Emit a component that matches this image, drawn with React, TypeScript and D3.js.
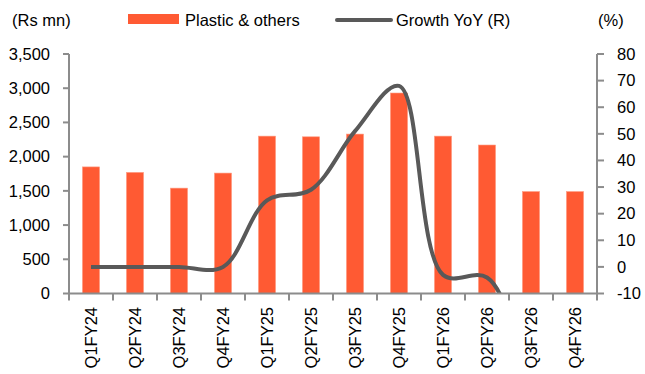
import React from "react";
import * as d3 from "d3";

const categories = ["Q1FY24","Q2FY24","Q3FY24","Q4FY24","Q1FY25","Q2FY25","Q3FY25","Q4FY25","Q1FY26","Q2FY26","Q3FY26","Q4FY26"];
const plasticValues = [1850, 1770, 1540, 1760, 2300, 2290, 2330, 2930, 2300, 2170, 1490, 1490];
const growthValues = [0, 0, 0, 0, 25, 29, 51, 68, -3, -4, -36, -49];
const leftTicks = [0, 500, 1000, 1500, 2000, 2500, 3000, 3500];
const rightTicks = [-10, 0, 10, 20, 30, 40, 50, 60, 70, 80];

const W = 645, H = 374;
const X0 = 69, X1 = 597, YTOP = 54, YBOT = 293.5;
const FONT = "'Liberation Sans', Arial, sans-serif";
const BAR = "#FF5A33";
const LINE = "#595959";
const AXIS = "#8C8C8C";

export default function App() {
  const x = d3.scaleBand<string>().domain(categories).range([X0, X1]).paddingInner(0).paddingOuter(0);
  const yL = d3.scaleLinear().domain([0, 3500]).range([YBOT, YTOP]);
  const yR = d3.scaleLinear().domain([-10, 80]).range([YBOT, YTOP]);
  const bw = x.bandwidth() * 0.39;
  const line = d3.line<number>()
    .x((_, i) => (x(categories[i]) as number) + x.bandwidth() / 2)
    .y((d) => yR(d))
    .curve(d3.curveCatmullRom.alpha(0.5));
  const fmt = d3.format(",");
  return (
    <svg width={W} height={H} style={{ position: "absolute", left: 0, top: 0, background: "#fff" }} fontFamily={FONT}>
      <defs>
        <clipPath id="plot">
          <rect x={X0} y={YTOP - 10} width={X1 - X0} height={YBOT - YTOP + 10} />
        </clipPath>
      </defs>
      {/* bars */}
      {plasticValues.map((v, i) => {
        const cx = (x(categories[i]) as number) + x.bandwidth() / 2;
        return <rect key={i} x={cx - bw / 2} y={yL(v)} width={bw} height={YBOT - yL(v)} fill={BAR} stroke="#FF9E85" strokeWidth={0.6} />;
      })}
      {/* line */}
      <path d={line(growthValues) || ""} fill="none" stroke={LINE} strokeWidth={4} clipPath="url(#plot)" strokeLinejoin="round" />
      {/* left axis */}
      <line x1={X0} x2={X0} y1={YTOP} y2={YBOT} stroke={AXIS} strokeWidth={2} />
      {leftTicks.map((t) => (
        <g key={t}>
          <line x1={X0 - 6} x2={X0} y1={yL(t)} y2={yL(t)} stroke={AXIS} strokeWidth={2} />
          <text x={50} y={yL(t)} dy="0.35em" textAnchor="end" fontSize={16.5} fill="#000">{fmt(t)}</text>
        </g>
      ))}
      {/* right axis */}
      <line x1={X1} x2={X1} y1={YTOP} y2={YBOT} stroke={AXIS} strokeWidth={2} />
      {rightTicks.map((t) => (
        <g key={t}>
          <line x1={X1} x2={X1 + 7} y1={yR(t)} y2={yR(t)} stroke={AXIS} strokeWidth={2} />
          <text x={617} y={yR(t)} dy="0.35em" textAnchor="start" fontSize={16.5} fill="#000">{t}</text>
        </g>
      ))}
      {/* category axis */}
      <line x1={X0} x2={X1} y1={YBOT} y2={YBOT} stroke={AXIS} strokeWidth={2} />
      {categories.concat([""]).map((c, i) => {
        const tx = X0 + i * x.bandwidth();
        return <line key={"t" + i} x1={tx} x2={tx} y1={YBOT} y2={YBOT + 7} stroke={AXIS} strokeWidth={2} />;
      })}
      {categories.map((c) => {
        const cx = (x(c) as number) + x.bandwidth() / 2;
        return (
          <text key={c} transform={`translate(${cx + 6},${307}) rotate(-90)`} textAnchor="end" fontSize={16.5} fill="#000">{c}</text>
        );
      })}
      {/* titles and legend */}
      <text x={12} y={20} dy="0.35em" fontSize={16.5} fill="#000">(Rs mn)</text>
      <text x={598} y={20} dy="0.35em" fontSize={16.5} fill="#000">(%)</text>
      <rect x={128} y={14} width={51} height={10} fill={BAR} />
      <text x={185} y={20} dy="0.35em" fontSize={16.5} fill="#000">Plastic &amp; others</text>
      <line x1={337} x2={391} y1={20} y2={20} stroke={LINE} strokeWidth={4} strokeLinecap="round" />
      <text x={396} y={20} dy="0.35em" fontSize={16.5} fill="#000">Growth YoY (R)</text>
    </svg>
  );
}
